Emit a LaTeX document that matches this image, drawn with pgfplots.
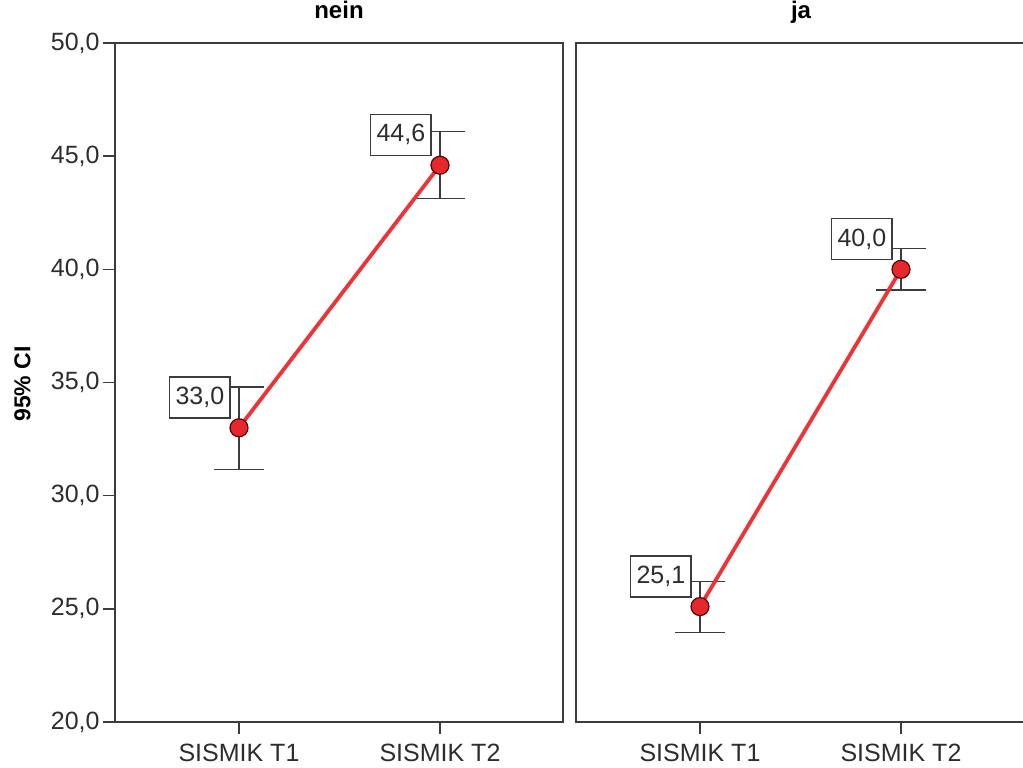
\documentclass[border=0pt]{standalone}
\usepackage{fontspec}
\setmainfont{Liberation Sans}
\usepackage{pgfplots}
\usepackage{pgfplotstable}
\pgfplotsset{compat=1.18}
\definecolor{lred}{RGB}{235,52,55}
\definecolor{mred}{RGB}{230,40,45}
\definecolor{axgray}{RGB}{60,60,60}
\definecolor{tgray}{RGB}{45,45,45}

\pgfplotstableread{
x y ep em lab
1 33.0 1.80 1.85 33,0
2 44.6 1.48 1.46 44,6
}\nein
\pgfplotstableread{
x y ep em lab
1 25.1 1.10 1.14 25,1
2 40.0 0.93 0.91 40,0
}\ja

\pgfplotsset{panel/.style={
  scale only axis, height=339.5pt,
  xmin=0.3831, ymin=20, ymax=50,
  xtick={1,2}, xticklabels={SISMIK T1, SISMIK T2},
  ytick={20,25,30,35,40,45,50},
  tick pos=left, tick align=outside, major tick length=6pt,
  axis line style={draw=axgray, line width=0.75pt},
  tick style={draw=axgray, line width=0.75pt},
  tick label style={font=\fontsize{12.5}{15}\selectfont, text=tgray},
  xticklabel style={inner ysep=5pt},
  yticklabel style={inner xsep=1.5pt},
  /pgf/number format/assume math mode=true,
  /pgf/number format/fixed,
  /pgf/number format/fixed zerofill,
  /pgf/number format/precision=1,
  /pgf/number format/use comma,
  title style={at={(0.5,1)}, anchor=base, yshift=6.5pt, font=\bfseries\fontsize{12}{14}\selectfont},
  clip=false,
},
ebars/.style={only marks, mark=none, forget plot,
  error bars/.cd, y dir=both, y explicit,
  error bar style={draw=axgray, line width=0.75pt, solid},
  error mark=|,
  error mark options={draw=axgray, line width=0.75pt, mark size=12.5pt, solid}},
redline/.style={lred, line width=1.9pt, mark=*, mark size=4.5pt,
  mark options={fill=mred, draw=black!65!red, line width=0.6pt, solid},
  point meta=explicit symbolic,
  nodes near coords,
  every node near coord/.append style={anchor=south east, xshift=-4pt, yshift=4.5pt,
    draw=axgray, fill=white, line width=0.75pt, text=tgray,
    font=\fontsize{12.5}{15}\selectfont, text height=9pt, text depth=2pt,
    inner xsep=3pt, inner ysep=4.75pt}}
}

\begin{document}
\begin{tikzpicture}
\begin{axis}[panel, name=left, at={(57.5pt,-361pt)}, anchor=south west,
  width=224pt, xmax=2.612, title={nein}]
  \addplot[ebars] table[x=x, y=y, y error plus=ep, y error minus=em] {\nein};
  \addplot[redline] table[x=x, y=y, meta=lab] {\nein};
\end{axis}
\begin{axis}[panel, name=right, at={(288pt,-361pt)}, anchor=south west,
  width=225pt, xmax=2.622, ytick=\empty, title={ja}]
  \addplot[ebars] table[x=x, y=y, y error plus=ep, y error minus=em] {\ja};
  \addplot[redline] table[x=x, y=y, meta=lab] {\ja};
\end{axis}
\node[rotate=90, font=\bfseries\fontsize{11.5}{14}\selectfont] at (11.25pt,-192pt) {95\% CI};
\pgfresetboundingbox
\useasboundingbox (0,0) rectangle (511.5pt,-383.5pt);
\end{tikzpicture}
\end{document}
